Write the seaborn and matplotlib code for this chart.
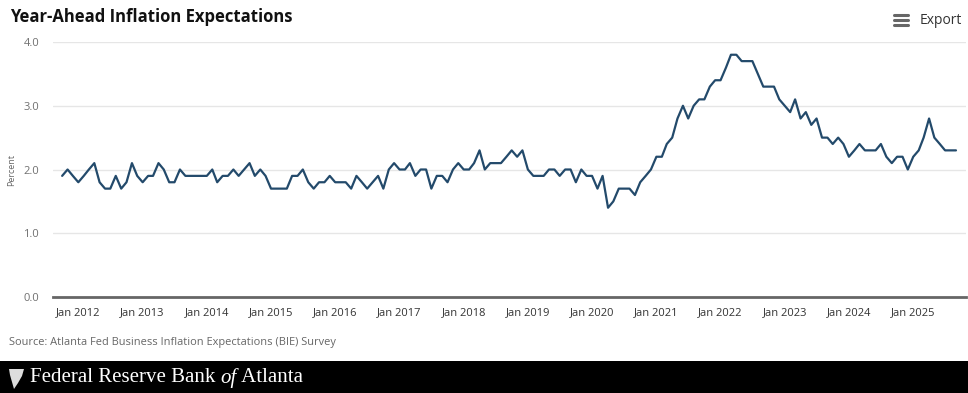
import pandas as pd
import matplotlib.pyplot as plt
from matplotlib.patches import Rectangle, Polygon
from matplotlib.lines import Line2D
import seaborn as sns

# Monthly survey values (Oct 2011 onward)
START_MONTH = "2011-10-01"
VALUES_2011 = [1.9, 2.0, 1.9]
VALUES_2012 = [1.8, 1.9, 2.0, 2.1, 1.8, 1.7, 1.7, 1.9, 1.7, 1.8, 2.1, 1.9]
VALUES_2013 = [1.8, 1.9, 1.9, 2.1, 2.0, 1.8, 1.8, 2.0, 1.9, 1.9, 1.9, 1.9]
VALUES_2014 = [1.9, 2.0, 1.8, 1.9, 1.9, 2.0, 1.9, 2.0, 2.1, 1.9, 2.0, 1.9]
VALUES_2015 = [1.7, 1.7, 1.7, 1.7, 1.9, 1.9, 2.0, 1.8, 1.7, 1.8, 1.8, 1.9]
VALUES_2016 = [1.8, 1.8, 1.8, 1.7, 1.9, 1.8, 1.7, 1.8, 1.9, 1.7, 2.0, 2.1]
VALUES_2017 = [2.0, 2.0, 2.1, 1.9, 2.0, 2.0, 1.7, 1.9, 1.9, 1.8, 2.0, 2.1]
VALUES_2018 = [2.0, 2.0, 2.1, 2.3, 2.0, 2.1, 2.1, 2.1, 2.2, 2.3, 2.2, 2.3]
VALUES_2019 = [2.0, 1.9, 1.9, 1.9, 2.0, 2.0, 1.9, 2.0, 2.0, 1.8, 2.0, 1.9]
VALUES_2020 = [1.9, 1.7, 1.9, 1.4, 1.5, 1.7, 1.7, 1.7, 1.6, 1.8, 1.9, 2.0]
VALUES_2021 = [2.2, 2.2, 2.4, 2.5, 2.8, 3.0, 2.8, 3.0, 3.1, 3.1, 3.3, 3.4]
VALUES_2022 = [3.4, 3.6, 3.8, 3.8, 3.7, 3.7, 3.7, 3.5, 3.3, 3.3, 3.3, 3.1]
VALUES_2023 = [3.0, 2.9, 3.1, 2.8, 2.9, 2.7, 2.8, 2.5, 2.5, 2.4, 2.5, 2.4]
VALUES_2024 = [2.2, 2.3, 2.4, 2.3, 2.3, 2.3, 2.4, 2.2, 2.1, 2.2, 2.2, 2.0]
VALUES_2025 = [2.2, 2.3, 2.5, 2.8, 2.5, 2.4, 2.3, 2.3, 2.3]

TICK_YEARS = list(range(2012, 2026))
Y_TICKS = [0.0, 1.0, 2.0, 3.0, 4.0]

TITLE = "Year-Ahead Inflation Expectations"
SOURCE = "Source: Atlanta Fed Business Inflation Expectations (BIE) Survey"
LINE_COLOR = "#234a6b"

W, H = 968, 393

values = (VALUES_2011 + VALUES_2012 + VALUES_2013 + VALUES_2014 + VALUES_2015
          + VALUES_2016 + VALUES_2017 + VALUES_2018 + VALUES_2019 + VALUES_2020
          + VALUES_2021 + VALUES_2022 + VALUES_2023 + VALUES_2024 + VALUES_2025)
df = pd.DataFrame({
    "date": pd.date_range(START_MONTH, periods=len(values), freq="MS"),
    "value": values,
})

sns.set_style("white")
plt.rcParams["font.family"] = ["Open Sans", "DejaVu Sans"]

fig = plt.figure(figsize=(W / 100, H / 100), dpi=100)
ax = fig.add_axes([53 / W, 1 - 297 / H, (966 - 53) / W, (297 - 42) / H])

sns.lineplot(data=df, x="date", y="value", ax=ax, color=LINE_COLOR, linewidth=1.6)

ax.set_ylim(0, 4)
ax.set_xlim(pd.Timestamp("2011-08-10"), pd.Timestamp("2025-10-28"))
ax.set_yticks(Y_TICKS)
ax.set_yticklabels([f"{v:.1f}" for v in Y_TICKS])
ax.set_xticks([pd.Timestamp(f"{y}-01-01") for y in TICK_YEARS])
ax.set_xticklabels([f"Jan {y}" for y in TICK_YEARS])

ax.grid(axis="y", color="#e6e6e6", linewidth=1)
ax.set_axisbelow(True)
for s in ["top", "right", "left"]:
    ax.spines[s].set_visible(False)
ax.spines["bottom"].set_color("#666666")
ax.spines["bottom"].set_linewidth(2)
ax.tick_params(axis="x", length=7, width=1, color="#ccd6eb", labelsize=8,
               labelcolor="#333333", pad=0.5)
ax.tick_params(axis="y", length=0, pad=10, labelsize=8, labelcolor="#707070")
ax.set_xlabel("")
ax.set_ylabel("")

fig.text(12 / W, 1 - 170 / H, "Percent", rotation=90, ha="center", va="center",
         fontsize=6.5, color="#666666")

# Header
fig.text(10 / W, 1 - 17 / H, TITLE, ha="left", va="center", fontsize=12,
         fontweight="bold", color="#111111")
fig.text(920 / W, 1 - 21 / H, "Export", ha="left", va="center", fontsize=10,
         color="#333333")
for yy in [15, 20, 25]:
    fig.add_artist(Line2D([894 / W, 908 / W], [1 - yy / H, 1 - yy / H],
                          transform=fig.transFigure, color="#666666", linewidth=2.2))

# Source
fig.text(9 / W, 1 - 343 / H, SOURCE, ha="left", va="center", fontsize=7.9,
         color="#666666")

# Footer band
fig.add_artist(Rectangle((0, 0), 1, 32 / H, transform=fig.transFigure,
                         facecolor="black", edgecolor="none"))
logo = [(9, 369), (24, 369), (22, 376), (18, 383), (14, 389), (12, 382), (10, 375)]
fig.add_artist(Polygon([(x / W, 1 - y / H) for x, y in logo], closed=True,
                       transform=fig.transFigure, facecolor="#dddddd", edgecolor="none"))

serif = ["Liberation Serif", "DejaVu Serif"]
renderer = fig.canvas.get_renderer()
x0 = 30
for txt, style in [("Federal Reserve Bank ", "normal"), ("of", "italic"), (" Atlanta", "normal")]:
    t = fig.text(x0 / W, 1 - 378 / H, txt, ha="left", va="center", fontsize=15,
                 family=serif, style=style, color="white")
    x0 += t.get_window_extent(renderer).width

fig.savefig("out.png", dpi=100)
